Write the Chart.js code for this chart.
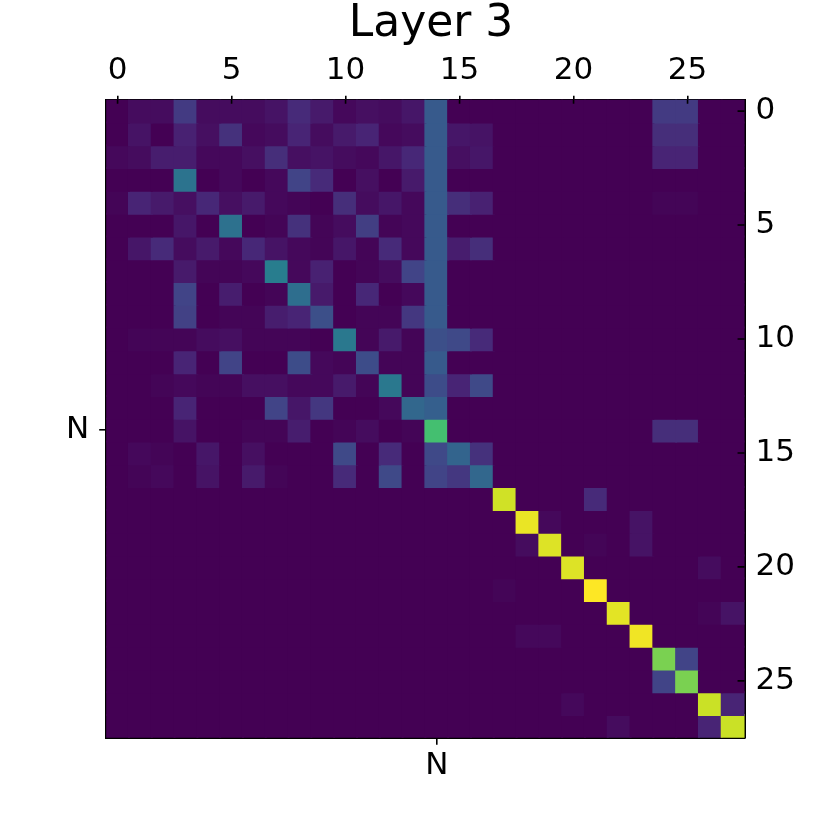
<!DOCTYPE html>
<html>
<head>
<meta charset="utf-8">
<script src="https://cdn.jsdelivr.net/npm/chart.js@4/dist/chart.umd.min.js"></script>
<style>
  html, body { margin: 0; padding: 0; background: #fff; }
  #wrap { width: 830px; height: 830px; }
</style>
</head>
<body>
<div id="wrap"><canvas id="heat" width="830" height="830"></canvas></div>
<script>
// DATA
const colLabels = Array.from({ length: 28 }, (_, i) => String(i));
const rowLabels = Array.from({ length: 28 }, (_, i) => String(i));
const topTickCols = [0, 5, 10, 15, 20, 25];
const rightTickRows = [0, 5, 10, 15, 20, 25];
const tokenIndex = 14;   // the "N" row / column
const tokenLabel = 'N';

// attention weights, rows top to bottom, 0..1 on the colour scale
const weights = [
  [0,.03,.03,.17,.03,.03,.03,.05,.12,.07,.02,.04,.03,.06,.28,0,0,0,0,0,0,0,0,0,.17,.17,0,0],
  [0,.05,0,.09,.04,.14,.02,.03,.10,.03,.07,.10,.02,.03,.28,.06,.05,0,0,0,0,0,0,0,.13,.13,0,0],
  [.02,.03,.08,.08,.02,.02,.04,.13,.04,.05,.03,.02,.06,.11,.28,.04,.06,0,0,0,0,0,0,0,.10,.10,0,0],
  [0,0,0,.38,0,.02,0,.02,.20,.12,0,.04,0,.07,.28,0,0,0,0,0,0,0,0,0,0,0,0,0],
  [.01,.10,.07,.04,.11,.04,.07,.02,.01,0,.13,.03,.06,.02,.28,.13,.09,0,0,0,0,0,0,0,.01,.01,0,0],
  [0,0,0,.06,0,.37,0,.01,.14,.01,.03,.18,.01,.02,.28,0,0,0,0,0,0,0,0,0,0,0,0,0],
  [0,.06,.12,.03,.07,.02,.11,.05,.02,.01,.06,.01,.12,.02,.28,.08,.13,0,0,0,0,0,0,0,0,0,0,0],
  [0,0,0,.07,.01,.01,.02,.42,.02,.09,0,.01,.03,.20,.28,0,0,0,0,0,0,0,0,0,0,0,0,0],
  [0,0,0,.20,0,.08,0,.01,.36,.07,0,.11,0,.02,.28,0,0,0,0,0,0,0,0,0,0,0,0,0],
  [0,0,0,.19,0,.01,.01,.08,.10,.24,0,.01,.01,.16,.28,0,0,0,0,0,0,0,0,0,0,0,0,0],
  [0,.01,.01,.01,.03,.04,.01,.01,.01,0,.40,.01,.07,.01,.24,.22,.12,0,0,0,0,0,0,0,0,0,0,0],
  [0,0,0,.10,0,.20,0,0,.23,.02,.01,.23,.01,.01,.28,0,0,0,0,0,0,0,0,0,0,0,0,0],
  [0,0,.01,.02,.01,.01,.04,.04,.02,.02,.07,.01,.40,.01,.23,.10,.22,0,0,0,0,0,0,0,0,0,0,0],
  [0,0,0,.10,0,0,0,.20,.06,.16,0,0,.02,.33,.30,0,0,0,0,0,0,0,0,0,0,0,0,0],
  [0,0,0,.05,0,0,.01,.01,.08,0,.01,.03,0,.01,.70,0,0,0,0,0,0,0,0,0,.13,.13,0,0],
  [0,.02,.01,0,.06,0,.04,0,0,0,.22,0,.12,0,.22,.32,.14,0,0,0,0,0,0,0,0,0,0,0],
  [0,.01,.02,0,.05,0,.07,.01,0,0,.12,0,.22,0,.20,.16,.33,0,0,0,0,0,0,0,0,0,0,0],
  [0,0,0,0,0,0,0,0,0,0,0,0,0,0,0,0,0,.93,0,0,0,.12,0,0,0,0,0,0],
  [0,0,0,0,0,0,0,0,0,0,0,0,0,0,0,0,0,0,.97,.02,0,0,0,.05,0,0,0,0],
  [0,0,0,0,0,0,0,0,0,0,0,0,0,0,0,0,0,0,.03,.95,0,.01,0,.05,0,0,0,0],
  [0,0,0,0,0,0,0,0,0,0,0,0,0,0,0,0,0,0,0,0,.95,0,0,0,0,0,.03,0],
  [0,0,0,0,0,0,0,0,0,0,0,0,0,0,0,0,0,.01,0,0,0,1.0,0,0,0,0,0,0],
  [0,0,0,0,0,0,0,0,0,0,0,0,0,0,0,0,0,0,0,0,0,0,.96,0,0,0,.01,.05],
  [0,0,0,0,0,0,0,0,0,0,0,0,0,0,0,0,0,0,.02,.02,0,0,0,.98,0,0,0,0],
  [0,0,0,0,0,0,0,0,0,0,0,0,0,0,0,0,0,0,0,0,0,0,0,0,.80,.20,0,0],
  [0,0,0,0,0,0,0,0,0,0,0,0,0,0,0,0,0,0,0,0,0,0,0,0,.20,.80,0,0],
  [0,0,0,0,0,0,0,0,0,0,0,0,0,0,0,0,0,0,0,0,.02,0,0,0,0,0,.92,.10],
  [0,0,0,0,0,0,0,0,0,0,0,0,0,0,0,0,0,0,0,0,0,0,.03,0,0,0,.10,.92]
];

// VIRIDIS COLOUR MAP
const viridisStops = [
  [68,1,84],[72,36,117],[65,68,135],[53,95,141],[42,120,142],[33,145,140],
  [34,168,132],[68,191,112],[122,209,81],[189,223,38],[253,231,37]
];
function viridis(v) {
  const t = Math.min(1, Math.max(0, v)) * (viridisStops.length - 1);
  const i = Math.min(viridisStops.length - 2, Math.floor(t));
  const f = t - i;
  const a = viridisStops[i], b = viridisStops[i + 1];
  const c = a.map((x, k) => Math.round(x + (b[k] - x) * f));
  return `rgb(${c[0]},${c[1]},${c[2]})`;
}

const tickFont = { family: 'DejaVu Sans', size: 31 };

// one stacked dataset per row, each cell is a unit tall bar
const datasets = rowLabels.map((r, ri) => ({
  label: 'row ' + r,
  data: colLabels.map(() => 1),
  backgroundColor: weights[ri].map(viridis),
  borderWidth: 0,
  inflateAmount: 1,
  barPercentage: 1,
  categoryPercentage: 1,
  stack: 'cells'
}));

// ticks that point into the plot (right side) or cross the top spine
const innerTicks = {
  id: 'innerTicks',
  afterDraw(chart) {
    const c = chart.ctx, a = chart.chartArea;
    const x = chart.scales.x, y = chart.scales.y;
    c.save();
    c.strokeStyle = '#000';
    c.lineWidth = 1.6;
    c.beginPath();
    topTickCols.forEach(col => {
      const px = x.getPixelForValue(col);
      c.moveTo(px, a.top);
      c.lineTo(px, a.top + 4);
    });
    rightTickRows.forEach(row => {
      const py = y.getPixelForValue(row + 0.5);
      c.moveTo(a.right, py);
      c.lineTo(a.right - 7, py);
    });
    c.stroke();
    c.restore();
  }
};

const ctx = document.getElementById('heat').getContext('2d');
new Chart(ctx, {
  type: 'bar',
  data: { labels: colLabels, datasets: datasets },
  plugins: [innerTicks],
  options: {
    responsive: false,
    animation: false,
    layout: { padding: { top: 4, left: 56, right: 24, bottom: 42 } },
    plugins: {
      legend: { display: false },
      tooltip: { enabled: false },
      title: {
        display: true,
        text: 'Layer 3',
        color: '#000',
        font: { family: 'DejaVu Sans', size: 44, weight: 'normal', lineHeight: 0.92 },
        padding: { top: 0, bottom: 2 }
      }
    },
    scales: {
      x: {
        type: 'category',
        position: 'top',
        stacked: true,
        offset: true,
        afterBuildTicks: s => { s.ticks = s.ticks.filter(t => topTickCols.includes(t.value)); },
        grid: { drawOnChartArea: false, offset: false, tickLength: 4, color: '#000', lineWidth: 1.6 },
        border: { display: true, color: '#000', width: 2 },
        ticks: { color: '#000', font: tickFont, padding: 6, maxRotation: 0, autoSkip: false }
      },
      xBottom: {
        type: 'category',
        position: 'bottom',
        labels: colLabels,
        offset: true,
        afterBuildTicks: s => { s.ticks = s.ticks.filter(t => t.value === tokenIndex); },
        grid: { drawOnChartArea: false, offset: false, tickLength: 7, color: '#000', lineWidth: 1.6 },
        border: { display: true, color: '#000', width: 2 },
        ticks: { color: '#000', font: tickFont, padding: 3, maxRotation: 0, autoSkip: false, callback: () => tokenLabel }
      },
      y: {
        type: 'linear',
        position: 'right',
        stacked: true,
        reverse: true,
        min: 0,
        max: rowLabels.length,
        afterBuildTicks: s => { s.ticks = rightTickRows.map(r => ({ value: r + 0.5 })); },
        grid: { drawOnChartArea: false, drawTicks: false },
        border: { display: true, color: '#000', width: 2 },
        ticks: { color: '#000', font: tickFont, padding: 11, callback: v => rowLabels[Math.floor(v)] }
      },
      yLeft: {
        type: 'linear',
        position: 'left',
        reverse: true,
        min: 0,
        max: rowLabels.length,
        afterBuildTicks: s => { s.ticks = [{ value: tokenIndex + 0.5 }]; },
        grid: { drawOnChartArea: false, tickLength: 7, color: '#000', lineWidth: 1.6 },
        border: { display: true, color: '#000', width: 2 },
        ticks: { color: '#000', font: tickFont, padding: 10, callback: () => tokenLabel }
      }
    }
  }
});
</script>
</body>
</html>
